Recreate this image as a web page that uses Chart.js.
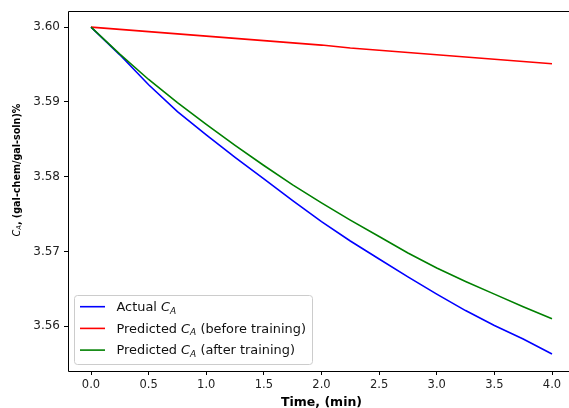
<!DOCTYPE html>
<html>
<head>
<meta charset="utf-8">
<script src="https://cdn.jsdelivr.net/npm/chart.js@4.4.1/dist/chart.umd.min.js"></script>
<style>
  html, body { margin: 0; padding: 0; background: #fff; overflow: hidden; }
  canvas { display: block; }
</style>
</head>
<body>
<canvas id="c" width="569" height="408"></canvas>
<script>
// Time samples (min)
const timeMin = [0.0, 0.25, 0.5, 0.75, 1.0, 1.25, 1.5, 1.75, 2.0, 2.25, 2.5, 2.75, 3.0, 3.25, 3.5, 3.75, 4.0];

// Concentration C_A, (gal-chem/gal-soln)%
const actualCA = [3.6000, 3.5963, 3.5923, 3.5887, 3.5856, 3.5826, 3.5797, 3.5768, 3.5740,
                  3.5714, 3.5690, 3.5666, 3.5643, 3.5621, 3.5601, 3.5583, 3.5563];
const predBeforeCA = [3.6000, 3.5997, 3.5994, 3.5991, 3.5988, 3.5985, 3.5982, 3.5979, 3.5976,
                      3.5972, 3.5969, 3.5966, 3.5963, 3.5960, 3.5957, 3.5954, 3.5951];
const predAfterCA = [3.6000, 3.5964, 3.5930, 3.5899, 3.5870, 3.5842, 3.5815, 3.5789, 3.5765,
                     3.5742, 3.5720, 3.5698, 3.5678, 3.5660, 3.5643, 3.5626, 3.5610];

// Tick labels
const xTicks = [0.0, 0.5, 1.0, 1.5, 2.0, 2.5, 3.0, 3.5, 4.0];
const yTicks = [3.56, 3.57, 3.58, 3.59, 3.60];

// Series names ("C_A" is typeset as an italic C with subscript A)
const seriesNames = ['Actual C_A', 'Predicted C_A (before training)', 'Predicted C_A (after training)'];
const seriesColors = ['#0000ff', '#ff0000', '#008000'];

const xTitle = 'Time, (min)';
const yTitle = 'C_A, (gal-chem/gal-soln)%';

const FONT = '"DejaVu Sans", Verdana, sans-serif';

function pts(ys) { return timeMin.map((t, i) => ({ x: t, y: ys[i] })); }

// Text where "C_A" appears as an italic C with a subscript A
function richWidth(ctx, text, size, weight) {
  const parts = text.split('C_A');
  let w = 0;
  parts.forEach((p, i) => {
    ctx.font = weight + ' ' + size + 'px ' + FONT;
    w += ctx.measureText(p).width;
    if (i < parts.length - 1) {
      ctx.font = 'italic ' + size + 'px ' + FONT;
      w += ctx.measureText('C').width;
      ctx.font = 'italic ' + (size * 0.7) + 'px ' + FONT;
      w += ctx.measureText('A').width;
    }
  });
  return w;
}
function drawRich(ctx, text, x, y, size, weight, color) {
  const parts = text.split('C_A');
  ctx.fillStyle = color;
  ctx.textBaseline = 'alphabetic';
  ctx.textAlign = 'left';
  parts.forEach((p, i) => {
    ctx.font = weight + ' ' + size + 'px ' + FONT;
    ctx.fillText(p, x, y);
    x += ctx.measureText(p).width;
    if (i < parts.length - 1) {
      ctx.font = 'italic ' + size + 'px ' + FONT;
      ctx.fillText('C', x, y);
      x += ctx.measureText('C').width;
      ctx.font = 'italic ' + (size * 0.7) + 'px ' + FONT;
      ctx.fillText('A', x, y + size * 0.2);
      x += ctx.measureText('A').width;
    }
  });
}

const framePlugin = {
  id: 'frameAndLabels',
  afterDraw(chart) {
    const ctx = chart.ctx;
    const a = chart.chartArea;
    const W = chart.width;
    ctx.save();
    // axes frame: left, top and bottom sides (the right side falls past the canvas edge)
    const L = Math.round(a.left) + 0.5, T = Math.round(a.top) + 0.5, B = Math.round(a.bottom) + 0.5;
    ctx.strokeStyle = '#000';
    ctx.lineWidth = 1;
    ctx.beginPath();
    ctx.moveTo(W + 2, T);
    ctx.lineTo(L, T);
    ctx.lineTo(L, B);
    ctx.lineTo(W + 2, B);
    ctx.stroke();

    // x-axis title, centred on the middle of the time span
    const xs = chart.scales.x;
    ctx.font = 'bold 12.5px ' + FONT;
    ctx.fillStyle = '#000';
    ctx.textAlign = 'center';
    ctx.textBaseline = 'alphabetic';
    ctx.fillText(xTitle, xs.getPixelForValue(2.0), 406);

    // y-axis title (rotated); italic C_A followed by bold text
    const ys = 9.6;
    ctx.save();
    ctx.translate(19.5, 170);
    ctx.rotate(-Math.PI / 2);
    ctx.textAlign = 'left';
    ctx.textBaseline = 'alphabetic';
    const yw = richWidth(ctx, yTitle, ys, 'bold');
    const parts = yTitle.split('C_A');
    let x = -yw / 2;
    ctx.fillStyle = '#000';
    ctx.font = 'italic ' + ys + 'px ' + FONT;
    ctx.fillText('C', x, 0);
    x += ctx.measureText('C').width;
    ctx.font = 'italic ' + (ys * 0.7) + 'px ' + FONT;
    ctx.fillText('A', x, ys * 0.2);
    x += ctx.measureText('A').width;
    ctx.font = 'bold ' + ys + 'px ' + FONT;
    ctx.fillText(parts[1], x, 0);
    ctx.restore();

    // legend
    const lx = 74.5, ly = 295.5, lw = 238, lh = 69;
    ctx.beginPath();
    ctx.roundRect(lx, ly, lw, lh, 3);
    ctx.fillStyle = 'rgba(255,255,255,0.8)';
    ctx.fill();
    ctx.strokeStyle = '#cccccc';
    ctx.lineWidth = 1;
    ctx.stroke();
    chart.data.datasets.forEach((ds, i) => {
      const base = 311 + i * 21.7;
      const cy = base - 4.3;
      ctx.beginPath();
      ctx.moveTo(80, cy);
      ctx.lineTo(105, cy);
      ctx.strokeStyle = ds.borderColor;
      ctx.lineWidth = 1.6;
      ctx.stroke();
      drawRich(ctx, seriesNames[i], 116.5, base, 12.9, 'normal', '#111');
    });
    ctx.restore();
  }
};

new Chart(document.getElementById('c'), {
  type: 'line',
  data: {
    datasets: [
      { label: seriesNames[0], data: pts(actualCA), borderColor: seriesColors[0], order: 3 },
      { label: seriesNames[1], data: pts(predBeforeCA), borderColor: seriesColors[1], order: 2 },
      { label: seriesNames[2], data: pts(predAfterCA), borderColor: seriesColors[2], order: 1 }
    ]
  },
  options: {
    responsive: false,
    animation: false,
    devicePixelRatio: 1,
    layout: { autoPadding: false, padding: { top: 9, right: 0, left: 0, bottom: 0 } },
    elements: {
      line: { borderWidth: 1.6, tension: 0, fill: false },
      point: { radius: 0, hoverRadius: 0 }
    },
    plugins: { legend: { display: false }, tooltip: { enabled: false } },
    scales: {
      x: {
        type: 'linear',
        min: -0.1996, max: 4.1475,
        afterFit(s) { s.height = 37; },
        afterBuildTicks(s) { s.ticks = xTicks.map(v => ({ value: v })); },
        grid: { drawOnChartArea: false, drawTicks: true, tickLength: 4, color: '#000' },
        border: { display: false },
        ticks: {
          font: { family: FONT, size: 11.5 }, color: '#222', padding: 3,
          maxRotation: 0, autoSkip: false,
          callback: v => Number(v).toFixed(1)
        }
      },
      y: {
        type: 'linear',
        min: 3.55402, max: 3.60213,
        afterFit(s) { s.width = 68; },
        afterBuildTicks(s) { s.ticks = yTicks.map(v => ({ value: v })); },
        grid: { drawOnChartArea: false, drawTicks: true, tickLength: 4, color: '#000' },
        border: { display: false },
        ticks: {
          font: { family: FONT, size: 12 }, color: '#222', padding: 4,
          autoSkip: false,
          callback: v => Number(v).toFixed(2)
        }
      }
    }
  },
  plugins: [framePlugin]
});
</script>
</body>
</html>
